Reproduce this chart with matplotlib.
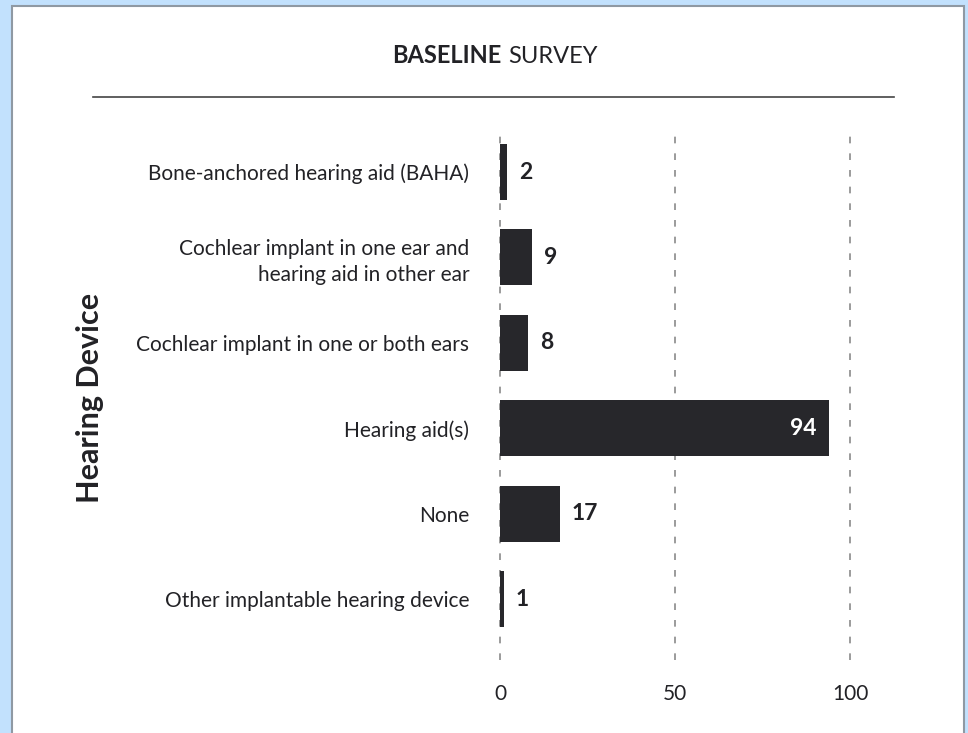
import matplotlib.pyplot as plt
from matplotlib.patches import Rectangle
from matplotlib.lines import Line2D

plt.rcParams['font.family'] = ['Lato', 'DejaVu Sans']

# --- data ---
devices = [
    'Bone-anchored hearing aid (BAHA)',
    'Cochlear implant in one ear and\nhearing aid in other ear',
    'Cochlear implant in one or both ears',
    'Hearing aid(s)',
    'None',
    'Other implantable hearing device',
]
counts = [2, 9, 8, 94, 17, 1]
x_ticks = [0, 50, 100]

W, H = 968, 733
fig = plt.figure(figsize=(W / 100, H / 100), dpi=100)
fig.patch.set_facecolor('#c2e1fd')

# white card with thin grey edge
fig.patches.append(Rectangle((12 / W, -0.05), 952 / W, 1 - 6 / H + 0.05,
                             transform=fig.transFigure, facecolor='white',
                             edgecolor='#8f99a3', linewidth=1.5, zorder=-10))

# title in two weights, sharing one baseline
fig.text(501 / W, 1 - 63 / H, 'BASELINE', ha='right', va='baseline',
         fontsize=17, fontweight='bold', color='#222226')
fig.text(508 / W, 1 - 63 / H, 'SURVEY', ha='left', va='baseline',
         fontsize=17, color='#222226')
fig.lines.append(Line2D([93 / W, 894 / W], [1 - 97 / H, 1 - 97 / H],
                        transform=fig.transFigure, color='#444444', lw=1.2))

# axes: 0 -> x=500px, 100 -> x=850px
x0, x1 = -2, 102
left_px = 500 + x0 * 3.5
right_px = 500 + x1 * 3.5
top_px, bot_px = 128, 660
ax = fig.add_axes([left_px / W, 1 - bot_px / H, (right_px - left_px) / W,
                   (bot_px - top_px) / H])
ax.set_facecolor('none')

pos = list(range(len(devices)))
ax.barh(pos, counts, height=0.655, color='#27272b', zorder=3)
ax.set_xlim(x0, x1)
ax.set_ylim(5.71, -0.515)

for p, v in zip(pos, counts):
    if v > 50:
        ax.text(v - 3.5, p, str(v), ha='right', va='center', color='white',
                fontsize=16.5, fontweight='bold', zorder=4)
    else:
        ax.text(v + 3.5, p, str(v), ha='left', va='center', color='#222226',
                fontsize=16.5, fontweight='bold', zorder=4)

ax.set_xticks(x_ticks)
ax.set_xticklabels([str(t) for t in x_ticks])
ax.set_yticks(pos)
ax.set_yticklabels(devices, ha='right', linespacing=1.35)
ax.tick_params(axis='x', length=0, pad=17, labelsize=15, labelcolor='#222226')
ax.tick_params(axis='y', length=0, pad=17, labelsize=15, labelcolor='#222226')
ax.grid(axis='x', color='#8a8a8a', linestyle=(0, (4, 6)), linewidth=1.2, zorder=1)
for s in ax.spines.values():
    s.set_visible(False)

fig.text(90 / W, 1 - 398 / H, 'Hearing Device', rotation=90, ha='center',
         va='center', fontsize=22, fontweight='bold', color='#222226')

fig.savefig('out.png', dpi=100, facecolor=fig.get_facecolor())
